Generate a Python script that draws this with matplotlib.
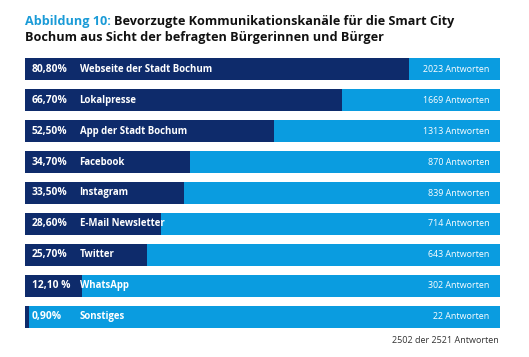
import matplotlib
matplotlib.use("Agg")
import matplotlib.pyplot as plt

# Daten aus der Abbildung
kanaele = ["Webseite der Stadt Bochum", "Lokalpresse", "App der Stadt Bochum",
           "Facebook", "Instagram", "E-Mail Newsletter", "Twitter",
           "WhatsApp", "Sonstiges"]
anteile = [80.8, 66.7, 52.5, 34.7, 33.5, 28.6, 25.7, 12.1, 0.9]
anteil_labels = ["80,80%", "66,70%", "52,50%", "34,70%", "33,50%", "28,60%",
                 "25,70%", "12,10 %", "0,90%"]
antworten = [2023, 1669, 1313, 870, 839, 714, 643, 302, 22]
fusszeile = "2502 der 2521 Antworten"

NAVY = "#0e2b6b"
HELLBLAU = "#0a9ce0"
TITELBLAU = "#1a9bd7"

plt.rcParams["font.family"] = ["Open Sans", "DejaVu Sans"]

W, H = 529, 357
fig = plt.figure(figsize=(W / 100, H / 100), dpi=100)
fig.patch.set_facecolor("white")

# Balkenbereich in Pixeln: x 25..500, y 58..328
ax = fig.add_axes([25 / W, 1 - 328 / H, 475 / W, 270 / H])
n = len(kanaele)
ypos = list(range(n))
bh = 0.71
ax.barh(ypos, [100] * n, height=bh, color=HELLBLAU, edgecolor="none")
ax.barh(ypos, anteile, height=bh, color=NAVY, edgecolor="none")
ax.set_xlim(0, 100)
ax.set_ylim(n - 1 + bh / 2, -bh / 2)
ax.axis("off")

for i in range(n):
    ax.text(1.4, i, anteil_labels[i], color="white", fontsize=7.4,
            fontweight="bold", va="center", ha="left")
    ax.text(11.5, i, kanaele[i], color="white", fontsize=6.9,
            fontweight="bold", va="center", ha="left")
    ax.text(97.8, i, f"{antworten[i]} Antworten", color="white", fontsize=6.4,
            va="center", ha="right")

# Titel (zweifarbig)
t1 = fig.text(25 / W, 1 - 24.5 / H, "Abbildung 10:", color=TITELBLAU,
              fontsize=9.05, fontweight="bold", ha="left", va="baseline")
fig.canvas.draw()
bb = t1.get_window_extent()
fig.text(bb.x1 / W + 3 / W, 1 - 24.5 / H,
         "Bevorzugte Kommunikationskanäle für die Smart City",
         color="#111111", fontsize=9.05, fontweight="bold", ha="left", va="baseline")
fig.text(25 / W, 1 - 40.5 / H, "Bochum aus Sicht der befragten Bürgerinnen und Bürger",
         color="#111111", fontsize=9.05, fontweight="bold", ha="left", va="baseline")

fig.text(499 / W, 1 - 343 / H, fusszeile, color="#333333", fontsize=6.5,
         ha="right", va="baseline")

fig.savefig("out.png", dpi=100)
